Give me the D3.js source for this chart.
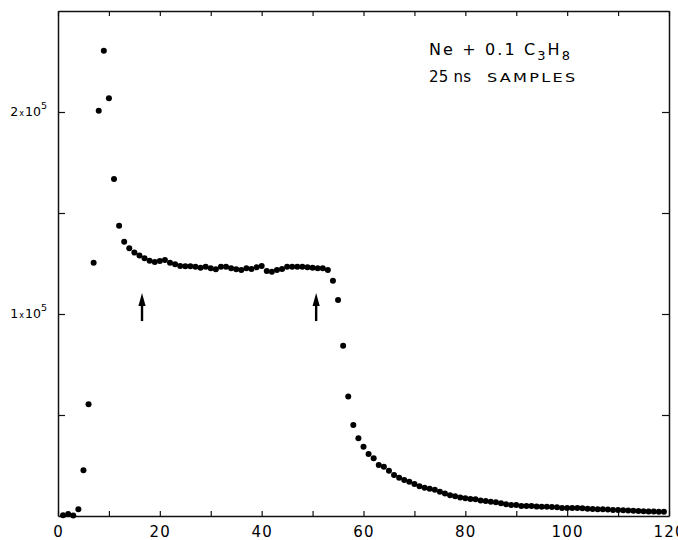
<!DOCTYPE html>
<html>
<head>
<meta charset="utf-8">
<script src="https://cdn.jsdelivr.net/npm/d3@7/dist/d3.min.js"></script>
<style>
  html, body { margin: 0; padding: 0; background: #fff; }
  svg { display: block; }
  text { font-family: "DejaVu Sans", "Liberation Sans", sans-serif; fill: #000; }
</style>
</head>
<body>
<svg id="chart" width="678" height="540"></svg>
<script>
// ---- Data ----
// channel number = sample index (25 ns samples)
const firstChannel = 1;
const counts = [
  400, 1000, 300, 3300, 22600, 55300, 125400, 200600, 230300, 206800,
  166800, 143700, 135800, 132600, 130400, 128900, 127600, 126400, 125700, 126200,
  126700, 125400, 124600, 123800, 123600, 123600, 123400, 122900, 123400, 122600,
  122100, 123400, 123400, 122600, 122100, 121800, 122600, 122300, 123100, 123800,
  121300, 120900, 121800, 122300, 123400, 123400, 123400, 123400, 123100, 122900,
  122600, 122600, 121800, 116500, 106900, 84300, 59100, 45000, 38500, 34300,
  30700, 28600, 25200, 24400, 22400, 20300, 18900, 17800, 16900, 15800,
  14700, 14000, 13500, 13000, 12000, 11100, 10300, 9800, 9200, 8800,
  8400, 8300, 7700, 7400, 7100, 6800, 6300, 5800, 5400, 5400,
  5000, 5000, 5000, 4700, 4600, 4600, 4500, 4300, 4000, 3900,
  4000, 4000, 3800, 3600, 3500, 3400, 3400, 3200, 3000, 3000,
  2800, 2700, 2600, 2500, 2300, 2200, 2200, 2100, 2100
];
const xTicks = [0, 10, 20, 30, 40, 50, 60, 70, 80, 90, 100, 110, 120];
const xTickLabels = [0, 20, 40, 60, 80, 100, 120];
const yTicks = [50000, 100000, 150000, 200000];
const yTickLabels = [
  { value: 100000, mantissa: "1" },
  { value: 200000, mantissa: "2" }
];
const arrows = [
  { channel: 16.5, tip: 110400, tail: 96500 },
  { channel: 50.7, tip: 110400, tail: 96500 }
];
const xDomain = [0, 120];
const yDomain = [0, 250000];

(function draw() {
  const svg = d3.select("#chart");
  const mLeft = 58, mRight = 669, mTop = 11, mBottom = 516;
  const x = d3.scaleLinear().domain(xDomain).range([mLeft, mRight]);
  const y = d3.scaleLinear().domain(yDomain).range([mBottom, mTop]);

  const points = counts.map((c, i) => ({ ch: i + firstChannel, v: c }));

  function styleAxis(g) {
    g.select(".domain").attr("stroke", "#111").attr("stroke-width", 1.5);
    g.selectAll(".tick line").attr("stroke", "#111").attr("stroke-width", 1.2);
  }

  // bottom axis
  svg.append("g")
    .attr("transform", `translate(0,${mBottom})`)
    .call(d3.axisBottom(x).tickValues(xTicks).tickSizeInner(-5).tickSizeOuter(0)
      .tickPadding(10).tickFormat(d => xTickLabels.includes(d) ? d : ""))
    .call(styleAxis)
    .call(g => g.selectAll(".tick text")
      .attr("font-size", 15).attr("letter-spacing", 1.2)
      .attr("font-family", "DejaVu Sans, sans-serif").attr("fill", "#000"));

  // top axis
  svg.append("g")
    .attr("transform", `translate(0,${mTop})`)
    .call(d3.axisTop(x).tickValues(xTicks).tickSizeInner(-5).tickSizeOuter(0).tickFormat(""))
    .call(styleAxis);

  // left axis
  svg.append("g")
    .attr("transform", `translate(${mLeft},0)`)
    .call(d3.axisLeft(y).tickValues(yTicks).tickSizeInner(-7).tickSizeOuter(0).tickFormat(""))
    .call(styleAxis);

  // right axis
  svg.append("g")
    .attr("transform", `translate(${mRight},0)`)
    .call(d3.axisRight(y).tickValues(yTicks).tickSizeInner(-7).tickSizeOuter(0).tickFormat(""))
    .call(styleAxis);

  // y tick labels  (e.g. 2x10^5)
  const yl = svg.append("g").selectAll("text").data(yTickLabels).join("text")
    .attr("x", mLeft - 11)
    .attr("y", d => y(d.value) + 4)
    .attr("text-anchor", "end")
    .attr("font-size", 12.5);
  yl.append("tspan").text(d => d.mantissa);
  yl.append("tspan").attr("font-size", 8).attr("dx", 1).text("x");
  yl.append("tspan").attr("dx", 1).text("10");
  yl.append("tspan").attr("font-size", 9.5).attr("dy", -7).text("5");

  // data points
  svg.append("g").selectAll("circle").data(points).join("circle")
    .attr("cx", d => x(d.ch))
    .attr("cy", d => y(d.v))
    .attr("r", 3)
    .attr("fill", "#000");

  // arrows
  const headLen = 13, headHalf = 3.6;
  const ag = svg.append("g").selectAll("g").data(arrows).join("g");
  ag.append("line")
    .attr("x1", d => x(d.channel)).attr("x2", d => x(d.channel))
    .attr("y1", d => y(d.tail)).attr("y2", d => y(d.tip) + headLen - 1)
    .attr("stroke", "#000").attr("stroke-width", 2.4);
  ag.append("path")
    .attr("d", d => {
      const cx = x(d.channel), ty = y(d.tip);
      return `M${cx},${ty} L${cx - headHalf},${ty + headLen} L${cx + headHalf},${ty + headLen} Z`;
    })
    .attr("fill", "#000");

  // annotation
  const t1 = svg.append("text")
    .attr("x", 429).attr("y", 55)
    .attr("font-size", 16)
    .attr("textLength", 141).attr("lengthAdjust", "spacing");
  t1.append("tspan").text("Ne + 0.1 C");
  t1.append("tspan").attr("font-size", 13).attr("dy", 5).text("3");
  t1.append("tspan").attr("dy", -5).text("H");
  t1.append("tspan").attr("font-size", 13).attr("dy", 5).text("8");

  svg.append("text")
    .attr("x", 429).attr("y", 81.5)
    .attr("font-size", 15)
    .attr("textLength", 42).attr("lengthAdjust", "spacing")
    .text("25 ns");
  svg.append("text")
    .attr("transform", "translate(487,81.5) scale(1.4,1)")
    .attr("font-size", 11.5)
    .attr("textLength", 63).attr("lengthAdjust", "spacing")
    .text("SAMPLES");
})();
</script>
</body>
</html>
